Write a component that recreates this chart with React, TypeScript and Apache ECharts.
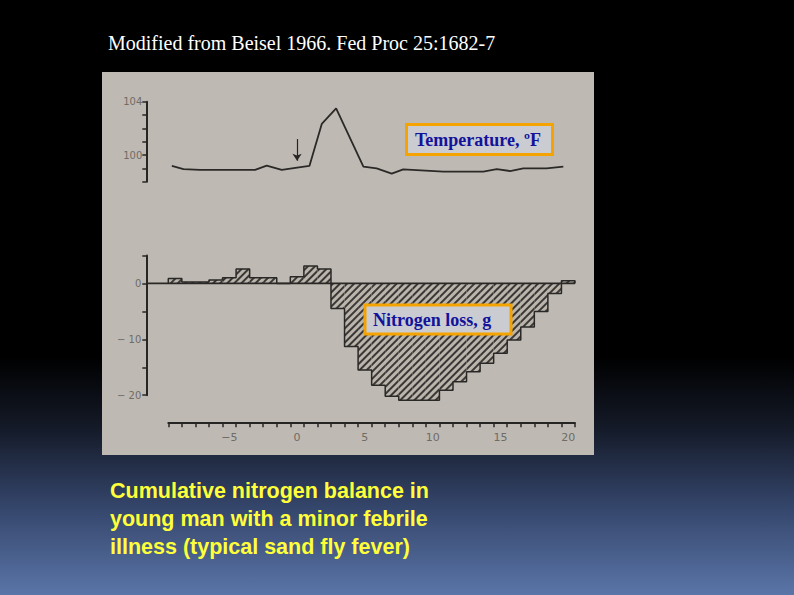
import React, { useEffect, useRef } from 'react';
import * as echarts from 'echarts';

// Days relative to onset (x axis categories)
const days = [-9, -8, -7, -6, -5, -4, -3, -2, -1, 0, 1, 2, 3, 4, 5, 6, 7, 8, 9, 10, 11, 12, 13, 14, 15, 16, 17, 18, 19, 20];
// Cumulative nitrogen balance, g
const nitrogenBalance = [0.9, 0.25, 0.25, 0.6, 1.0, 2.6, 1.0, 1.0, 0, 1.2, 3.1, 2.6, -4.5, -11.3, -15.5, -18.2, -20.2, -20.9, -20.9, -20.9, -19.1, -17.6, -15.8, -14.3, -12.5, -10.1, -7.8, -5.0, -1.8, 0.5];
// Temperature readings (day, °F)
const tempDays = [-9.24, -8.38, -7.15, -3.1, -2.24, -1.13, 0, 0.91, 1.82, 2.88, 4.89, 5.87, 6.98, 7.83, 10.79, 13.74, 14.73, 15.71, 16.69, 18.4, 19.64];
const tempValues = [99.18, 98.95, 98.88, 98.88, 99.2, 98.88, 99.05, 99.18, 102.33, 103.5, 99.13, 99.0, 98.6, 98.93, 98.75, 98.75, 98.95, 98.8, 99.0, 99.0, 99.13];
// Tick labels
const tempTickLabels = [100, 104];
const nitrogenTickLabels = [0, -10, -20];
const dayTickLabels = [-5, 0, 5, 10, 15, 20];
// Onset arrows (day, from, to)
const onsetDay = 0;
const tempArrow = [101.2, 99.57];
const nitrogenArrow = [6.1, 2.1];

const titleText = 'Modified from Beisel 1966. Fed Proc 25:1682-7';
const captionText = 'Cumulative nitrogen balance in\nyoung man with a minor febrile\nillness (typical sand fly fever)';
const tempLabel = 'Temperature, ºF';
const nitrogenLabel = 'Nitrogen loss, g';

const minus = (v: number) => (v < 0 ? '\u2212' + Math.abs(v) : String(v));

export default function App() {
  const ref = useRef<HTMLDivElement>(null);
  useEffect(() => {
    const chart = echarts.init(ref.current!, null, { renderer: 'svg' });
    const ink = '#272523';
    const labelColor = '#6f6b66';
    const yOffset = 22;

    const outline: number[][] = [[days[0] - 0.5, 0]];
    days.forEach((d, i) => {
      outline.push([d - 0.5, nitrogenBalance[i]]);
      outline.push([d + 0.5, nitrogenBalance[i]]);
    });
    outline.push([days[days.length - 1] + 0.5, 0]);

    const option: any = {
      animation: false,
      backgroundColor: new echarts.graphic.LinearGradient(0, 0, 0, 1, [
        { offset: 0, color: '#000000' },
        { offset: 0.6, color: '#000000' },
        { offset: 0.72, color: '#141a28' },
        { offset: 0.85, color: '#34456a' },
        { offset: 1, color: '#5a75a8' },
      ]),
      grid: [
        { left: 168.3, right: 219, top: 101.7, height: 80, outerBoundsMode: 'none' },
        { left: 168.3, right: 219, top: 255.5, height: 139.7, outerBoundsMode: 'none' },
      ],
      xAxis: [
        { type: 'value', gridIndex: 0, min: -9.5, max: 20.5, show: false, position: 'top' },
        {
          type: 'category',
          gridIndex: 1,
          data: days.map(String),
          position: 'bottom',
          offset: 28,
          axisLine: { show: true, onZero: false, lineStyle: { color: ink, width: 2 } },
          axisTick: { show: true, interval: 0, alignWithLabel: false, length: 4, lineStyle: { color: ink, width: 1.5 } },
          axisLabel: {
            interval: (_i: number, v: string) => dayTickLabels.includes(Number(v)),
            formatter: (v: string) => minus(Number(v)),
            color: labelColor,
            fontSize: 11,
            fontFamily: 'DejaVu Sans',
            margin: 9,
          },
          splitLine: { show: false },
        },
        { type: 'value', gridIndex: 1, min: -9.5, max: 20.5, show: false, position: 'top' },
      ],
      yAxis: [
        {
          type: 'value',
          gridIndex: 0,
          min: 98,
          max: 104,
          interval: 1,
          offset: yOffset,
          position: 'left',
          axisLine: { show: true, onZero: false, lineStyle: { color: ink, width: 2 } },
          axisTick: { show: true, length: 4, lineStyle: { color: ink, width: 1.5 } },
          axisLabel: {
            formatter: (v: number) => (tempTickLabels.includes(v) ? String(v) : ''),
            color: labelColor,
            fontSize: 10,
            fontFamily: 'DejaVu Sans',
            margin: 4,
          },
          splitLine: { show: false },
        },
        {
          type: 'value',
          gridIndex: 1,
          min: -20,
          max: 5,
          interval: 5,
          offset: yOffset,
          position: 'left',
          axisLine: { show: true, onZero: false, lineStyle: { color: ink, width: 2 } },
          axisTick: { show: true, length: 4, lineStyle: { color: ink, width: 1.5 } },
          axisLabel: {
            formatter: (v: number) => (nitrogenTickLabels.includes(v) ? (v < 0 ? '\u2212 ' + Math.abs(v) : String(v)) : ''),
            color: labelColor,
            fontSize: 10,
            fontFamily: 'DejaVu Sans',
            margin: 5,
          },
          splitLine: { show: false },
        },
      ],
      series: [
        {
          type: 'line',
          xAxisIndex: 0,
          yAxisIndex: 0,
          data: tempDays.map((d, i) => [d, tempValues[i]]),
          symbol: 'none',
          lineStyle: { color: '#2b2927', width: 1.8 },
          clip: false,
          z: 3,
          markLine: {
            silent: true,
            symbol: ['none', 'arrow'],
            symbolSize: 7,
            label: { show: false },
            lineStyle: { color: ink, width: 1.2, type: 'solid' },
            data: [[{ coord: [onsetDay, tempArrow[0]] }, { coord: [onsetDay, tempArrow[1]] }]],
          },
        },
        {
          type: 'bar',
          xAxisIndex: 1,
          yAxisIndex: 1,
          data: nitrogenBalance,
          barCategoryGap: '0%',
          barWidth: '100%',
          clip: false,
          z: 2,
          itemStyle: {
            color: '#bbb5ac',
            decal: {
              symbol: 'rect',
              symbolSize: 1,
              dashArrayX: [1, 0],
              dashArrayY: [1.2, 2.2],
              rotation: -Math.PI / 4,
              color: '#3a3836',
            },
          },
        },
        {
          type: 'line',
          xAxisIndex: 2,
          yAxisIndex: 1,
          data: outline,
          symbol: 'none',
          clip: false,
          lineStyle: { color: '#2a2826', width: 1.5 },
          z: 4,
          markLine: {
            silent: true,
            symbol: ['none', 'arrow'],
            symbolSize: 7,
            label: { show: false },
            lineStyle: { color: ink, width: 1.2, type: 'solid' },
            data: [[{ coord: [onsetDay, nitrogenArrow[0]] }, { coord: [onsetDay, nitrogenArrow[1]] }]],
          },
        },
      ],
    };
    chart.setOption(option);

    const y0 = chart.convertToPixel({ yAxisIndex: 1 }, 0) as number;
    const xStart = (chart.convertToPixel({ xAxisIndex: 2 }, days[0] - 0.5) as number) - yOffset;
    const xEnd = chart.convertToPixel({ xAxisIndex: 2 }, days[days.length - 1] + 0.5) as number;

    chart.setOption({
      graphic: [
        { type: 'rect', z: -10, shape: { x: 102, y: 72, width: 492, height: 383 }, style: { fill: '#bebab3' } },
        {
          type: 'text', x: 108, y: 43,
          style: { text: titleText, fill: '#ffffff', font: '20px "Liberation Serif"', verticalAlign: 'middle' },
        },
        {
          type: 'text', x: 110, y: 477,
          style: { text: captionText, fill: '#ffff3a', font: 'bold 21.5px "Liberation Sans"', lineHeight: 28, verticalAlign: 'top' },
        },
        {
          type: 'line', z: 50,
          shape: { x1: xStart, y1: y0, x2: xEnd, y2: y0 },
          style: { stroke: '#2a2826', lineWidth: 1.8 },
        },
        {
          type: 'rect', z: 100, shape: { x: 406.5, y: 124.5, width: 146, height: 30 },
          style: { fill: '#cbccd2', stroke: '#f5a300', lineWidth: 3 },
        },
        {
          type: 'text', z: 101, x: 415, y: 140,
          style: { text: tempLabel, fill: '#13139a', font: 'bold 18px "Liberation Serif"', verticalAlign: 'middle' },
        },
        {
          type: 'rect', z: 100, shape: { x: 365, y: 305, width: 146, height: 29 },
          style: { fill: '#cbccd2', stroke: '#f5a300', lineWidth: 3 },
        },
        {
          type: 'text', z: 101, x: 373, y: 320,
          style: { text: nitrogenLabel, fill: '#13139a', font: 'bold 18px "Liberation Serif"', verticalAlign: 'middle' },
        },
      ],
    });

    return () => chart.dispose();
  }, []);

  return <div ref={ref} style={{ position: 'absolute', left: 0, top: 0, width: 794, height: 595 }} />;
}
